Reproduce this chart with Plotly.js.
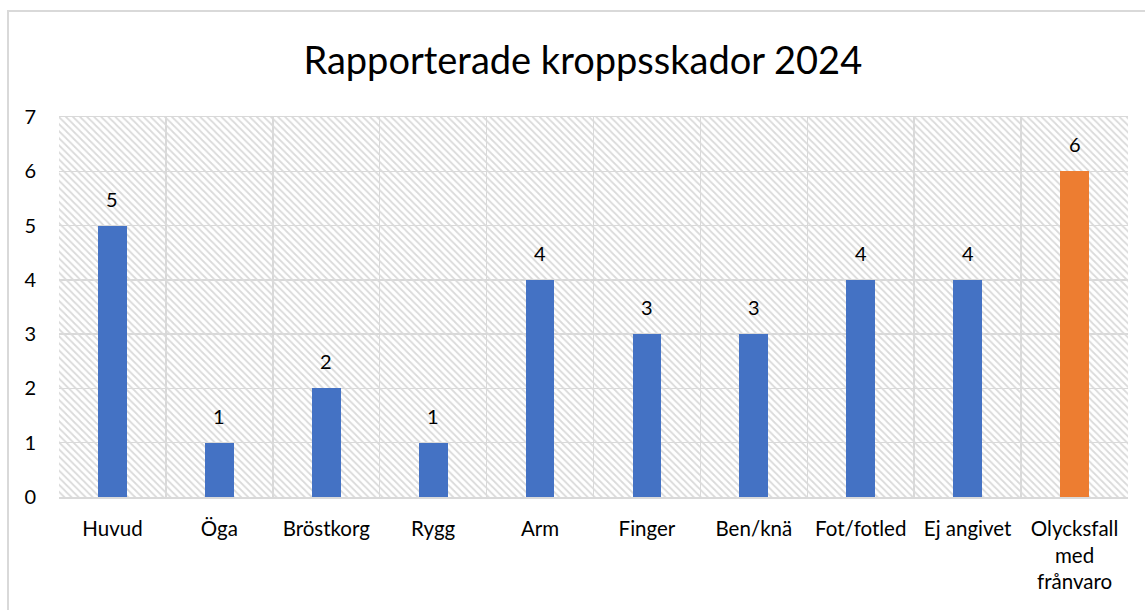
<!DOCTYPE html>
<html>
<head>
<meta charset="utf-8">
<script src="https://cdn.plot.ly/plotly-3.0.1.min.js"></script>
<style>
  html, body { margin: 0; padding: 0; background: #fff; }
  #wrap { position: relative; width: 1145px; height: 610px; overflow: hidden; }
  #chart { width: 1145px; height: 610px; }
  #frame { position: absolute; left: 7px; top: 10px; width: 1200px; height: 700px;
           border-left: 2px solid #d9d9d9; border-top: 2px solid #d9d9d9; pointer-events: none; }
</style>
</head>
<body>
<div id="wrap">
  <div id="chart"></div>
  <div id="frame"></div>
</div>
<script>
const categories = ["Huvud", "Öga", "Bröstkorg", "Rygg", "Arm", "Finger", "Ben/knä", "Fot/fotled", "Ej angivet", "Olycksfall<br>med<br>frånvaro"];
const values = [5, 1, 2, 1, 4, 3, 3, 4, 4, 6];
const barColors = ["#4472C4", "#4472C4", "#4472C4", "#4472C4", "#4472C4", "#4472C4", "#4472C4", "#4472C4", "#4472C4", "#ED7D31"];
const yTicks = [0, 1, 2, 3, 4, 5, 6, 7];
const yMax = 7;
const titleText = "Rapporterade kroppsskador 2024";

const FONT = "Lato, 'Open Sans', sans-serif";

const background = {
  type: "bar",
  x: categories,
  y: categories.map(() => yMax),
  width: 1,
  marker: {
    color: "rgba(0,0,0,0)",
    line: { width: 0 },
    pattern: { shape: "\\", fgcolor: "#dadada", bgcolor: "rgba(0,0,0,0)", size: 5, solidity: 0.35 }
  },
  hoverinfo: "skip",
  showlegend: false
};

const bars = {
  type: "bar",
  x: categories,
  y: values,
  width: 0.27,
  marker: { color: barColors, line: { width: 0 } },
  showlegend: false
};

const annotations = categories.map((c, i) => ({
  x: c, y: values[i], xref: "x", yref: "y",
  text: String(values[i]), showarrow: false,
  yanchor: "middle", yshift: 27,
  font: { family: FONT, size: 20, color: "#000" }
}));

const layout = {
  width: 1145, height: 610,
  margin: { l: 59, r: 17, t: 117, b: 113 },
  paper_bgcolor: "#fff", plot_bgcolor: "#fff",
  barmode: "overlay",
  bargap: 0,
  title: { text: titleText, x: 0.509, xanchor: "center", y: 0.9, yanchor: "middle",
           font: { family: FONT, size: 38, color: "#000" } },
  xaxis: {
    type: "category",
    tickson: "boundaries",
    showgrid: true, gridcolor: "#d9d9d9", gridwidth: 1.5,
    showline: true, linecolor: "#d9d9d9", linewidth: 1.5, mirror: true,
    ticks: "", ticklabelstandoff: 13,
    tickfont: { family: FONT, size: 20.5, color: "#000" },
    fixedrange: true
  },
  yaxis: {
    range: [0, yMax],
    tickvals: yTicks,
    showgrid: true, gridcolor: "#d9d9d9", gridwidth: 1.5,
    zeroline: false,
    showline: false,
    ticks: "", ticklabelstandoff: 22,
    tickfont: { family: FONT, size: 20, color: "#000" },
    fixedrange: true
  },
  annotations: annotations
};

Plotly.newPlot("chart", [background, bars], layout, { displayModeBar: false, staticPlot: true });
</script>
</body>
</html>
